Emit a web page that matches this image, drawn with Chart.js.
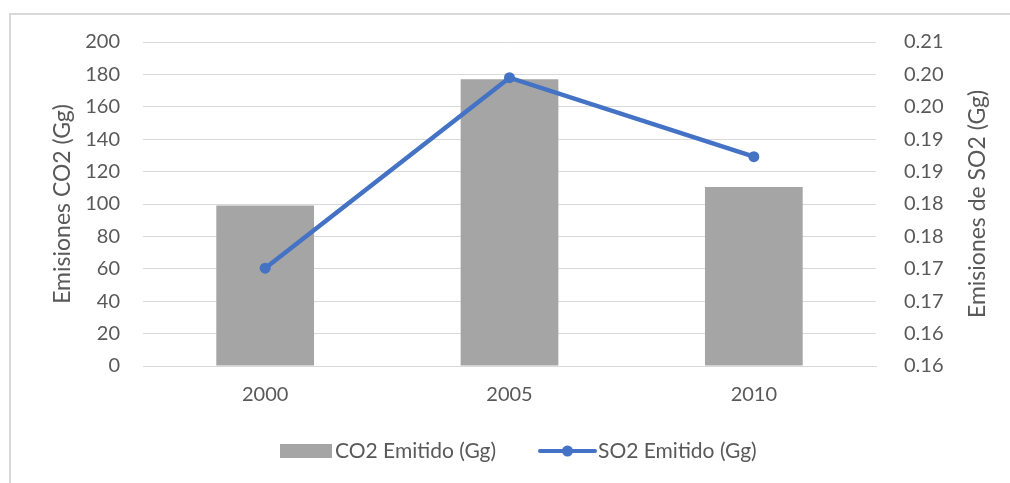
<!DOCTYPE html>
<html>
<head>
<meta charset="utf-8">
<script src="https://cdn.jsdelivr.net/npm/chart.js@4.4.1/dist/chart.umd.min.js"></script>
<style>
  html, body { margin: 0; padding: 0; background: #fff; }
  #wrap { position: relative; width: 1010px; height: 483px; }
  #frame { position: absolute; left: 9px; top: 13px; width: 1100px; height: 600px;
           border-left: 2px solid #d9d9d9; border-top: 2px solid #d9d9d9; }
  canvas { position: absolute; left: 0; top: 0; }
</style>
</head>
<body>
<div id="wrap">
  <div id="frame"></div>
  <canvas id="myChart" width="1010" height="483"></canvas>
</div>
<script>
// datos
const anios = ['2000', '2005', '2010'];
const co2 = [99, 177, 110.5];
const so2 = [0.1751, 0.2045, 0.1923];
const ticksIzq = [0, 20, 40, 60, 80, 100, 120, 140, 160, 180, 200];
const ticksDer = ['0.16', '0.16', '0.17', '0.17', '0.18', '0.18', '0.19', '0.19', '0.20', '0.20', '0.21'];
const tituloIzq = 'Emisiones CO2 (Gg)';
const tituloDer = 'Emisiones de SO2 (Gg)';

const gris = '#A5A5A5';
const azul = '#4472C4';
const texto = '#595959';
const fuente = 'Lato, "Open Sans", sans-serif';

// leyenda dibujada a mano (barra + linea con punto) y titulo del eje derecho girado hacia arriba
const extras = {
  id: 'extras',
  afterDraw(chart) {
    const ctx = chart.ctx;
    const y = 451;
    ctx.save();
    ctx.font = '21px ' + fuente;
    ctx.textBaseline = 'middle';
    ctx.textAlign = 'left';

    let x = 280;
    ctx.fillStyle = gris;
    ctx.fillRect(x, y - 7, 52, 14);
    ctx.fillStyle = texto;
    ctx.fillText(chart.data.datasets[0].label, x + 55, y);

    x = 540;
    ctx.strokeStyle = azul;
    ctx.lineWidth = 4;
    ctx.lineCap = 'round';
    ctx.beginPath();
    ctx.moveTo(x, y);
    ctx.lineTo(x + 55, y);
    ctx.stroke();
    ctx.fillStyle = azul;
    ctx.beginPath();
    ctx.arc(x + 27.5, y, 5.5, 0, Math.PI * 2);
    ctx.fill();
    ctx.fillStyle = texto;
    ctx.fillText(chart.data.datasets[1].label, x + 58, y);

    // titulo eje derecho
    const a = chart.chartArea;
    ctx.translate(978, (a.top + a.bottom) / 2);
    ctx.rotate(-Math.PI / 2);
    ctx.textAlign = 'center';
    ctx.font = '23px ' + fuente;
    ctx.fillText(tituloDer, 0, 0);
    ctx.restore();
  }
};

const ctx = document.getElementById('myChart').getContext('2d');

const myChart = new Chart(ctx, {
  type: 'bar',
  data: {
    labels: anios,
    datasets: [{
      type: 'bar',
      label: 'CO2 Emitido (Gg)',
      data: co2,
      backgroundColor: gris,
      yAxisID: 'y',
      categoryPercentage: 1,
      barPercentage: 0.4,
      order: 2
    }, {
      type: 'line',
      label: 'SO2 Emitido (Gg)',
      data: so2,
      borderColor: azul,
      backgroundColor: azul,
      borderWidth: 4.5,
      pointRadius: 5.5,
      pointBackgroundColor: azul,
      pointBorderWidth: 0,
      yAxisID: 'y1',
      order: 1
    }]
  },
  options: {
    responsive: false,
    animation: false,
    layout: { padding: { left: 47, right: 18, top: 42, bottom: 67 } },
    plugins: {
      legend: { display: false },
      tooltip: { enabled: false }
    },
    scales: {
      x: {
        offset: true,
        grid: { display: false, drawTicks: false },
        border: { color: '#d9d9d9', width: 1 },
        ticks: { color: texto, font: { family: fuente, size: 20 }, padding: 17 },
        afterFit(s) { s.height = 50; }
      },
      y: {
        position: 'left',
        min: 0,
        max: 200,
        afterBuildTicks(s) { s.ticks = ticksIzq.map(v => ({ value: v })); },
        grid: { color: '#d9d9d9', lineWidth: 1, drawTicks: false },
        border: { display: false },
        ticks: { color: texto, font: { family: fuente, size: 20 }, padding: 23 },
        title: {
          display: true,
          text: tituloIzq,
          color: texto,
          font: { family: fuente, size: 23 },
          padding: { top: 2, bottom: 4 }
        },
        afterFit(s) { s.width = 96; }
      },
      y1: {
        position: 'right',
        min: 0.16,
        max: 0.21,
        afterBuildTicks(s) {
          s.ticks = ticksDer.map((t, i) => ({ value: 0.16 + i * 0.005 }));
        },
        grid: { display: false, drawTicks: false },
        border: { display: false },
        ticks: {
          color: texto,
          font: { family: fuente, size: 20 },
          padding: 28,
          callback: (v, i) => ticksDer[i]
        },
        afterFit(s) { s.width = 116; }
      }
    }
  },
  plugins: [extras]
});
</script>
</body>
</html>
